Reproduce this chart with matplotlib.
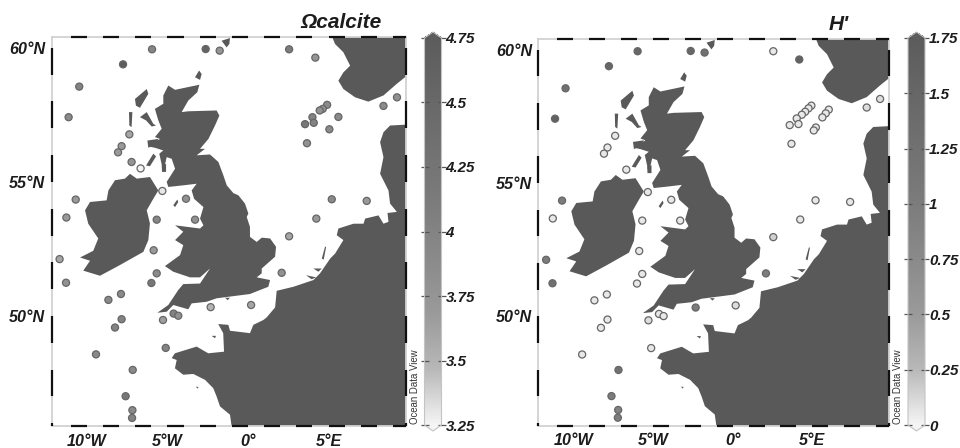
import numpy as np
import matplotlib
matplotlib.use("Agg")
import matplotlib.pyplot as plt
from matplotlib.colors import LinearSegmentedColormap, Normalize
from matplotlib.cm import ScalarMappable

plt.rcParams['font.family'] = ['Liberation Sans', 'DejaVu Sans']

LON_MIN, LON_MAX, LAT_MIN, LAT_MAX = -12.19, 9.79, 45.9, 60.41

# Stations shared by both panels
station_lon = [-5.96, -2.63, -1.76, 2.55, 4.18, -7.76, -10.48, -11.14, 9.25, 8.41,
               -7.37, -7.85, -8.07, -7.23, -6.67, -5.32, -3.85, -10.7, -11.28, -5.67,
               -3.29, 5.2, 7.37, 4.24, 2.55, -5.86, -11.7, -11.3, -5.67, -6.0,
               -7.89, -8.67, -2.32, 0.19, 2.09, -4.62, -4.33, -5.28, -7.85, -8.26,
               -5.11, -9.44, -7.16, -7.6, -7.18, -7.2]
station_lat = [59.94, 59.95, 59.89, 59.94, 59.63, 59.38, 58.55, 57.41, 58.15, 57.83,
               56.77, 56.33, 56.10, 55.74, 55.5, 54.66, 54.37, 54.34, 53.67, 53.59,
               53.59, 54.35, 54.29, 53.63, 52.97, 52.45, 52.12, 51.24, 51.59, 51.23,
               50.82, 50.6, 50.33, 50.41, 51.61, 50.09, 50.01, 49.85, 49.88, 49.57,
               48.81, 48.57, 47.99, 47.01, 46.49, 46.2]
omega_values = [3.95, 4.6, 3.75, 4.1, 3.75, 4.7, 4.0, 3.9, 3.8, 3.9,
                3.6, 3.7, 3.7, 3.75, 3.25, 3.3, 3.8, 3.7, 3.7, 3.95,
                3.8, 3.9, 3.7, 3.7, 3.6, 3.7, 3.6, 3.8, 3.9, 4.2,
                3.9, 3.9, 3.5, 3.6, 3.8, 4.0, 3.8, 3.65, 4.0, 4.0,
                4.0, 3.9, 3.9, 4.2, 3.9, 4.0]
h_values = [1.5, 1.5, 1.25, 0.05, 1.6, 1.5, 1.25, 1.6, 0.1, 0.1,
            0.05, 0.05, 0.05, np.nan, 0.05, 0.05, 0.05, 1.0, 0.05, 0.05,
            0.05, 0.05, 0.05, 0.05, 0.15, 0.05, 1.0, 1.25, 0.05, 0.05,
            0.05, 0.05, 1.0, 0.1, 1.0, 0.05, 0.05, 0.1, 0.05, 0.05,
            0.05, 0.05, 1.25, 1.0, 0.9, 1.0]

# North Sea transect stations differ between the panels
omega_sea_lon = [4.91, 4.64, 4.45, 5.61, 4.0, 4.08, 3.54, 5.05, 3.66]
omega_sea_lat = [57.87, 57.72, 57.66, 57.42, 57.41, 57.2, 57.15, 56.96, 56.44]
omega_sea_val = [3.9, 3.8, 3.8, 3.9, 4.0, 4.0, 4.2, 3.9, 3.8]
h_sea_lon = [4.94, 4.76, 4.55, 4.34, 4.02, 4.13, 3.58, 6.03, 5.84, 5.63, 5.22, 5.09, 3.69]
h_sea_lat = [57.9, 57.8, 57.67, 57.56, 57.42, 57.21, 57.17, 57.75, 57.61, 57.46, 57.08, 56.97, 56.47]
h_sea_val = [0.05, 0.05, 0.05, 0.05, 0.05, 0.05, 0.05, 0.05, 0.05, 0.05, 0.05, 0.05, 0.05]

# Land outlines (lon, lat)
great_britain = [(-4.95, 58.59), (-4.53, 58.43), (-3.02, 58.62), (-3.15, 58.34), (-3.71, 58.03),
                 (-4.12, 57.60), (-3.71, 57.63), (-1.95, 57.66), (-1.78, 57.47), (-2.05, 57.10),
                 (-2.46, 56.60), (-2.98, 56.23), (-2.67, 56.23), (-3.19, 55.99), (-2.36, 56.02),
                 (-1.84, 55.74), (-1.53, 55.24), (-1.32, 54.87), (-0.91, 54.58), (-0.60, 54.50),
                 (-0.19, 54.19), (0.02, 53.82), (-0.08, 53.69), (0.12, 53.32), (0.12, 52.95),
                 (0.54, 52.76), (0.85, 52.92), (1.37, 52.89), (1.74, 52.58), (1.68, 52.21),
                 (0.85, 51.77), (0.85, 51.59), (0.54, 51.44), (1.37, 51.34), (1.26, 51.09),
                 (0.12, 50.82), (-0.91, 50.74), (-1.95, 50.66), (-2.57, 50.53), (-3.50, 50.47),
                 (-3.71, 50.25), (-4.64, 50.41), (-5.05, 50.16), (-5.63, 50.12), (-4.95, 50.41),
                 (-4.33, 50.97), (-4.02, 51.19), (-2.98, 51.21), (-2.36, 51.77), (-2.98, 51.44),
                 (-3.60, 51.44), (-4.64, 51.65), (-5.16, 51.86), (-4.22, 52.27), (-4.02, 52.64),
                 (-4.53, 52.83), (-4.02, 53.14), (-4.53, 53.38), (-2.98, 53.26), (-2.77, 53.38),
                 (-2.98, 53.63), (-2.77, 54.06), (-3.35, 54.37), (-3.50, 54.68), (-3.19, 54.93),
                 (-4.02, 54.87), (-4.95, 54.81), (-5.05, 55.0), (-4.53, 55.49), (-4.74, 55.86),
                 (-5.05, 55.92), (-5.26, 55.37), (-5.51, 56.05), (-5.26, 56.17), (-5.78, 56.27),
                 (-6.19, 56.32), (-5.47, 56.60), (-5.78, 56.67), (-5.36, 56.98), (-5.57, 57.29),
                 (-5.78, 57.72), (-5.26, 57.91), (-5.26, 58.22)]
ireland = [(-8.67, 54.68), (-8.26, 55.06), (-7.64, 55.12), (-7.33, 55.3), (-6.91, 55.12),
           (-6.09, 55.18), (-5.57, 54.68), (-5.88, 54.37), (-6.29, 53.94), (-6.09, 53.45),
           (-6.19, 52.83), (-6.50, 52.39), (-7.95, 51.9), (-9.19, 51.50), (-10.23, 51.69),
           (-9.81, 52.06), (-10.43, 52.18), (-9.61, 52.43), (-9.30, 52.89), (-9.92, 53.44),
           (-10.12, 53.94), (-9.81, 54.25), (-8.78, 54.31)]
norway = [(4.99, 60.76), (5.40, 60.14), (5.92, 59.83), (6.34, 59.33), (5.92, 59.08), (5.61, 58.77),
          (5.92, 58.46), (6.65, 58.15), (7.47, 57.99), (8.41, 58.22), (9.23, 58.65), (9.79, 58.92),
          (10.68, 59.27), (10.68, 60.76)]
continent = [(10.68, 57.16), (8.82, 57.10), (8.41, 56.85), (8.20, 56.48), (8.41, 55.92), (8.20, 55.30),
             (8.72, 54.68), (8.82, 54.19), (9.24, 53.88), (8.66, 53.84), (8.72, 53.51), (8.41, 53.44),
             (8.10, 53.75), (7.27, 53.63), (7.17, 53.44), (6.55, 53.44), (5.61, 53.26), (5.51, 53.01),
             (5.92, 52.83), (5.41, 52.33), (5.10, 52.14), (4.47, 51.59), (4.06, 51.34), (2.82, 51.09),
             (1.99, 50.97), (1.78, 50.94), (1.68, 50.32), (1.16, 49.95), (0.95, 49.85), (0.33, 49.67),
             (0.12, 49.36), (-1.12, 49.45), (-1.22, 49.67), (-1.85, 49.70), (-1.54, 49.36), (-1.49, 48.67),
             (-2.47, 48.61), (-3.19, 48.86), (-4.54, 48.61), (-4.74, 48.43), (-4.43, 48.36), (-4.54, 48.05),
             (-4.02, 47.81), (-3.40, 47.84), (-2.67, 47.62), (-2.16, 47.31), (-1.95, 47.0), (-1.74, 46.63),
             (-1.12, 46.32), (-1.02, 45.89), (-1.02, 45.4), (10.68, 45.4)]
islands = [
    [(-7.02, 58.09), (-6.29, 58.46), (-6.19, 58.28), (-6.71, 57.76), (-6.96, 57.84)],
    [(-7.39, 57.60), (-7.18, 57.60), (-7.23, 57.04), (-7.37, 57.10)],
    [(-6.71, 57.41), (-6.29, 57.60), (-5.88, 57.16), (-5.71, 57.10), (-5.98, 57.06), (-6.33, 57.29)],
    [(-3.29, 58.90), (-3.04, 59.15), (-2.88, 59.02), (-2.98, 58.80)],
    [(-1.64, 60.26), (-1.12, 60.36), (-1.16, 60.14), (-1.33, 60.01)],
    [(-6.33, 55.61), (-5.88, 56.05), (-5.71, 55.95), (-6.09, 55.58)],
    [(-6.25, 56.54), (-5.57, 56.60), (-5.67, 56.42), (-6.19, 56.27)],
    [(-5.36, 55.61), (-5.09, 55.67), (-5.09, 55.37), (-5.34, 55.37)],
    [(-4.64, 54.13), (-4.39, 54.34), (-4.33, 54.25), (-4.53, 54.06)],
    [(-2.26, 49.26), (-1.99, 49.26), (-2.05, 49.17)],
    [(-3.23, 47.37), (-3.07, 47.35), (-3.15, 47.29)],
    [(-1.43, 50.68), (-1.12, 50.68), (-1.26, 50.59)],
    [(6.65, 53.26), (7.06, 53.26), (6.86, 53.17)],
    [(4.06, 51.77), (4.58, 51.77), (4.37, 51.65)],
    [(3.6, 51.52), (4.23, 51.44), (3.95, 51.37)],
    [(4.58, 52.14), (4.78, 52.58), (4.85, 52.58), (4.7, 52.1)],
]

lon_ticks = [-10, -5, 0, 5]
lon_labels = ['10°W', '5°W', '0°', '5°E']
lat_ticks = [50, 55, 60]
lat_labels = ['50°N', '55°N', '60°N']
omega_ticks = [3.25, 3.5, 3.75, 4, 4.25, 4.5, 4.75]
omega_tick_labels = ['3.25', '3.5', '3.75', '4', '4.25', '4.5', '4.75']
h_ticks = [0, 0.25, 0.5, 0.75, 1, 1.25, 1.5, 1.75]
h_tick_labels = ['0', '0.25', '0.5', '0.75', '1', '1.25', '1.5', '1.75']

W, H = 960, 448
LAND = '#595959'
TEXT = '#1c1c1c'
cmap = LinearSegmentedColormap.from_list('odv_grey', [
    (0.0, '#f4f4f4'), (0.143, '#b8b8b8'), (0.286, '#9a9a9a'),
    (0.43, '#8a8a8a'), (0.57, '#7c7c7c'), (1.0, '#5c5c5c')])


def px_axes(fig, x0, y0, x1, y1):
    return fig.add_axes([x0 / W, 1 - y1 / H, (x1 - x0) / W, (y1 - y0) / H])


def checker_frame(ax):
    for s in ax.spines.values():
        s.set_color('#d2d2d2')
        s.set_linewidth(1.3)
    for lon in range(-12, 10):
        if lon % 2:
            a, b = max(lon, LON_MIN), min(lon + 1, LON_MAX)
            for lat in (LAT_MIN, LAT_MAX):
                ax.plot([a, b], [lat, lat], color='#111111', lw=1.6,
                        solid_capstyle='butt', clip_on=False, zorder=6)
    for lat in range(45, 61):
        if lat % 2 == 1:
            a, b = max(lat, LAT_MIN), min(lat + 1, LAT_MAX)
            for lon in (LON_MIN, LON_MAX):
                ax.plot([lon, lon], [a, b], color='#111111', lw=1.6,
                        solid_capstyle='butt', clip_on=False, zorder=6)


def draw_panel(fig, box, cbox, title, title_xy, odv_x, lon, lat, val, vmin, vmax, ticks, tick_labels):
    ax = px_axes(fig, *box)
    for poly in [great_britain, ireland, norway, continent] + islands:
        xs, ys = zip(*poly)
        ax.fill(xs, ys, color=LAND, lw=0, zorder=1)
    norm = Normalize(vmin, vmax)
    ax.scatter(lon, lat, c=val, cmap=cmap, norm=norm, s=26, linewidths=0.9,
               edgecolors='#666666', zorder=3)
    ax.set_xlim(LON_MIN, LON_MAX)
    ax.set_ylim(LAT_MIN, LAT_MAX)
    ax.set_xticks(lon_ticks, lon_labels)
    ax.set_yticks(lat_ticks, lat_labels)
    ax.tick_params(axis='x', length=0, pad=5.5, labelsize=11.6, labelcolor=TEXT)
    ax.tick_params(axis='y', length=0, pad=4.5, labelsize=11.6, labelcolor=TEXT)
    for t in ax.get_xticklabels() + ax.get_yticklabels():
        t.set_fontweight('bold')
        t.set_fontstyle('italic')
    checker_frame(ax)

    cax = px_axes(fig, *cbox)
    cb = fig.colorbar(ScalarMappable(norm=norm, cmap=cmap), cax=cax, extend='both',
                      extendfrac=0.0155, drawedges=False)
    cb.set_ticks(ticks, labels=tick_labels)
    cb.outline.set_edgecolor('#c4c4c4')
    cb.outline.set_linewidth(0.8)
    cax.tick_params(left=True, right=True, direction='inout', length=6, width=0.9,
                    color='#555555', pad=0, labelsize=10.9, labelcolor=TEXT)
    for t in cax.get_yticklabels():
        t.set_fontweight('bold')
        t.set_fontstyle('italic')

    fig.text(title_xy[0] / W, 1 - title_xy[1] / H, title, fontsize=15, fontweight='bold',
             fontstyle='italic', color=TEXT, ha='center', va='center')
    fig.text(odv_x / W, 1 - 424 / H, 'Ocean Data View', fontsize=6.9,
             color='#333333', rotation=90, ha='center', va='bottom')


fig = plt.figure(figsize=(W / 100, H / 100), dpi=100, facecolor='white')

draw_panel(fig, (51.7, 36.7, 405.7, 426), (424.5, 32, 441.5, 431), 'Ωcalcite', (341, 23), 414.5,
           station_lon + omega_sea_lon, station_lat + omega_sea_lat, omega_values + omega_sea_val,
           3.25, 4.75, omega_ticks, omega_tick_labels)
draw_panel(fig, (538.3, 38.7, 888.7, 425.7), (908, 32, 925, 431), "H'", (839, 24), 898,
           station_lon + h_sea_lon, station_lat + h_sea_lat, h_values + h_sea_val,
           0, 1.75, h_ticks, h_tick_labels)

fig.savefig('out.png', dpi=100)
